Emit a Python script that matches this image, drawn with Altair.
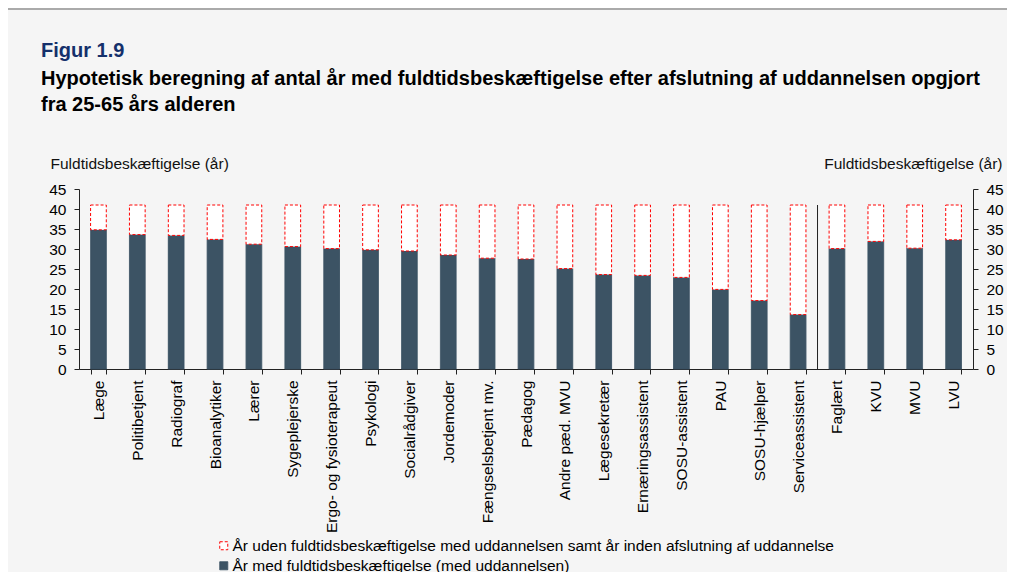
import altair as alt
import pandas as pd

categories = ["Læge", "Politibetjent", "Radiograf", "Bioanalytiker", "Lærer",
              "Sygeplejerske", "Ergo- og fysioterapeut", "Psykologi", "Socialrådgiver",
              "Jordemoder", "Fængselsbetjent mv.", "Pædagog", "Andre pæd. MVU",
              "Lægesekretær", "Ernæringsassistent", "SOSU-assistent", "PAU",
              "SOSU-hjælper", "Serviceassistent", "Faglært", "KVU", "MVU", "LVU"]
employed = [34.8, 33.6, 33.4, 32.4, 31.2, 30.6, 30.1, 29.8, 29.5, 28.5, 27.7,
            27.5, 25.1, 23.6, 23.4, 22.9, 19.9, 17.1, 13.6, 30.1, 31.9, 30.2, 32.3]
total = [41, 41, 41, 41, 41, 41, 41, 41, 41, 41, 41, 41,
         41, 41, 41, 41, 41, 41, 41, 41, 41, 41, 41]
first_after_separator = "Faglært"

lab_gap = "År uden fuldtidsbeskæftigelse med uddannelsen samt år inden afslutning af uddannelse"
lab_emp = "År med fuldtidsbeskæftigelse (med uddannelsen)"
series_labels = [lab_gap, lab_emp]
y_ticks = [0, 5, 10, 15, 20, 25, 30, 35, 40, 45]
axis_title = "Fuldtidsbeskæftigelse (år)"

DARK = "#3c5364"
FONT = "Liberation Sans"

rows = []
for c, e in zip(categories, employed):
    rows.append({"cat": c, "series": lab_emp, "lo": 0, "hi": e})
for c, e, t in zip(categories, employed, total):
    rows.append({"cat": c, "series": lab_gap, "lo": e, "hi": t})
df = pd.DataFrame(rows)

sep_df = pd.DataFrame({"pos": [categories.index(first_after_separator)],
                       "lo": [0], "hi": [total[0]]})

yscale = alt.Scale(domain=[0, 45], nice=False)

legend = alt.Legend(title=None, orient="none", legendX=137, legendY=349,
                    direction="vertical", symbolType="square", symbolSize=64,
                    symbolStrokeWidth=1, labelFontSize=15.5, labelLimit=1000,
                    rowPadding=3, labelOffset=1, padding=0, labelColor="black",
                    labelFont=FONT)

common_axis = dict(values=y_ticks, tickSize=5, labelPadding=8, labelFontSize=15.5,
                   labelColor="black", domainColor="#222", tickColor="#222",
                   grid=False, title=axis_title, titleAngle=0, titleBaseline="middle",
                   titleFontWeight="normal", titleFontSize=15.5, titleColor="#111",
                   titleY=-26, labelFont=FONT, titleFont=FONT)

bars = alt.Chart(df).mark_bar(strokeWidth=1).encode(
    x=alt.X("cat:N", sort=categories,
            scale=alt.Scale(paddingInner=0.596, paddingOuter=0.298),
            axis=alt.Axis(title=None, labelAngle=-90, tickBand="extent", tickSize=5,
                          labelPadding=6, labelFontSize=15.5, labelColor="black",
                          domainColor="#222", tickColor="#222", labelLimit=300,
                          labelFont=FONT)),
    y=alt.Y("lo:Q", scale=yscale,
            axis=alt.Axis(orient="left", titleAlign="left", titleX=-29, **common_axis)),
    y2="hi:Q",
    fill=alt.Fill("series:N", scale=alt.Scale(domain=series_labels, range=["white", DARK]),
                  legend=legend),
    stroke=alt.Stroke("series:N", scale=alt.Scale(domain=series_labels, range=["#ff0000", DARK]),
                      legend=legend),
    strokeDash=alt.StrokeDash("series:N",
                              scale=alt.Scale(domain=series_labels, range=[[3, 2], [1, 0]]),
                              legend=legend),
)

right_axis = alt.Chart(df).mark_rule(strokeOpacity=0).encode(
    y=alt.Y("hi:Q", scale=yscale,
            axis=alt.Axis(orient="right", titleAlign="right", titleX=29, **common_axis)),
)

separator = alt.Chart(sep_df).mark_rule(color="#222", strokeWidth=1).encode(
    x=alt.X("pos:Q", scale=alt.Scale(domain=[0, len(categories)], nice=False), axis=None),
    y=alt.Y("lo:Q", scale=yscale, axis=None),
    y2="hi:Q",
)

top_border = alt.Chart(sep_df).mark_rule(color="#aaaaaa", strokeWidth=2).encode(
    x=alt.value(-71), x2=alt.value(928), y=alt.value(-180),
)

chart = alt.layer(bars, right_axis, separator, top_border).resolve_scale(
    x="independent"
).resolve_axis(y="independent").properties(
    width=894, height=180,
    autosize=alt.AutoSizeParams(type="none"),
    padding={"left": 71, "top": 181, "right": 34, "bottom": 205},
    title=alt.TitleParams(
        text="Figur 1.9",
        subtitle=["Hypotetisk beregning af antal år med fuldtidsbeskæftigelse efter afslutning af uddannelsen opgjort",
                  "fra 25-65 års alderen"],
        anchor="start", dx=34, offset=-107,
        font=FONT, subtitleFont=FONT,
        fontSize=20, subtitleFontSize=20,
        fontWeight="bold", subtitleFontWeight="bold",
        color="#14306b", subtitleColor="black",
        subtitlePadding=8, subtitleLineHeight=26,
    ),
).configure(
    background="#f5f5f5", font=FONT
).configure_view(stroke=None)

chart.save("out.html", embed_options={"renderer": "svg", "actions": False})
